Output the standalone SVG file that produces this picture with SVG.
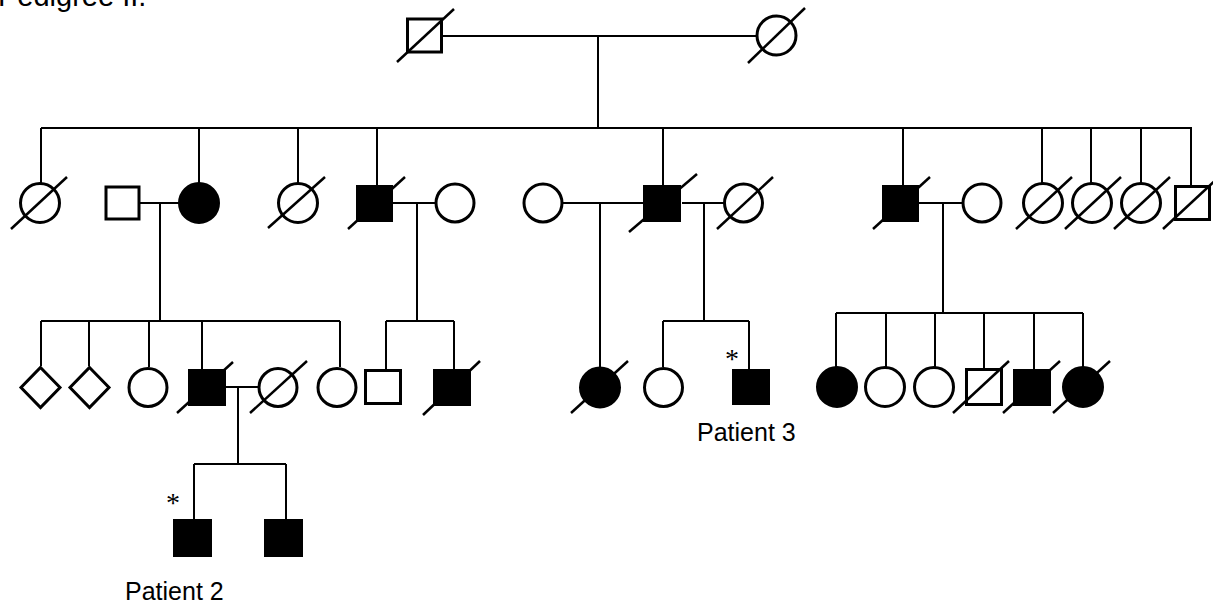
<svg xmlns="http://www.w3.org/2000/svg" width="1213" height="605" viewBox="0 0 1213 605">
<style>
.ln{stroke:#000;stroke-width:2;fill:none}
.o{fill:#fff;stroke:#000;stroke-width:3}
.f{fill:#000;stroke:#000;stroke-width:3}
.d{stroke:#000;stroke-width:2.5}
.lbl{font-family:"Liberation Sans",Arial,sans-serif;font-size:25px;fill:#000}
.ast{font-family:"Liberation Serif","Times New Roman",serif;font-size:28px;fill:#000}
</style>
<rect width="1213" height="605" fill="#fff"/>
<text class="lbl" x="-2" y="6" style="font-size:29px">Pedigree II.</text>
<g id="connectors">
<path class="ln" d="M443,36H757M598,36V128"/>
<path class="ln" d="M41,128H1192M41,128V183M199,128V183M298,128V183M377,128V185M663,128V185M903,128V185M1042,128V183M1091,128V183M1141,128V183M1191,128V185"/>
<path class="ln" d="M140,203H180M160,203V321"/>
<path class="ln" d="M393,203H436M417,203V321"/>
<path class="ln" d="M563,203H643M600,203V367"/>
<path class="ln" d="M682,203H724M704,203V321"/>
<path class="ln" d="M919,203H963M943,203V313"/>
<path class="ln" d="M41,321H340M41,321V366M89,321V366M149,321V367M202,321V369M340,321V367"/>
<path class="ln" d="M386,321H454M386,321V369M454,321V369"/>
<path class="ln" d="M663,321H749M663,321V367M749,321V369"/>
<path class="ln" d="M836,313H1083M836,313V367M886,313V367M935,313V367M984,313V368M1034,313V369M1083,313V367"/>
<path class="ln" d="M226,387H258M238,387V464M194,464H286M194,464V519M286,464V519"/>
</g>
<g id="I1"><rect class="o" x="407.5" y="19" width="34" height="33"/><line class="d" x1="397" y1="62" x2="454" y2="9"/></g>
<g id="I2"><circle class="o" cx="776.5" cy="35.5" r="19.5"/><line class="d" x1="748" y1="63" x2="805" y2="8"/></g>
<g id="II1"><circle class="o" cx="40" cy="203" r="19.5"/><line class="d" x1="11" y1="229" x2="67" y2="177"/></g>
<g id="II2"><rect class="o" x="106" y="187" width="33" height="32"/></g>
<g id="II3"><circle class="f" cx="199" cy="203" r="19.5"/></g>
<g id="II4"><circle class="o" cx="298" cy="203" r="19.5"/><line class="d" x1="268" y1="228" x2="325" y2="177"/></g>
<g id="II5"><rect class="f" x="357.5" y="186.5" width="34" height="34"/><line class="d" x1="348" y1="229" x2="405" y2="177"/></g>
<g id="II6"><circle class="o" cx="455" cy="203" r="19"/></g>
<g id="II7"><circle class="o" cx="543" cy="203" r="19"/></g>
<g id="II8"><rect class="f" x="644.5" y="186.5" width="35" height="34"/><line class="d" x1="629" y1="232" x2="697" y2="174"/></g>
<g id="II9"><circle class="o" cx="743.5" cy="203" r="19"/><line class="d" x1="717" y1="229" x2="773" y2="177"/></g>
<g id="II10"><rect class="f" x="883.5" y="186.5" width="34" height="34"/><line class="d" x1="873" y1="229" x2="930" y2="177"/></g>
<g id="II11"><circle class="o" cx="982" cy="203" r="19"/></g>
<g id="II12"><circle class="o" cx="1043" cy="203" r="19.5"/><line class="d" x1="1016" y1="229" x2="1072" y2="177"/></g>
<g id="II13"><circle class="o" cx="1092" cy="203" r="19.5"/><line class="d" x1="1065" y1="229" x2="1121" y2="177"/></g>
<g id="II14"><circle class="o" cx="1141" cy="203" r="19.5"/><line class="d" x1="1114" y1="229" x2="1170" y2="177"/></g>
<g id="II15"><rect class="o" x="1175.5" y="186.5" width="34" height="33"/><line class="d" x1="1163" y1="229" x2="1219" y2="177"/></g>
<g id="III1"><polygon class="o" points="40.5,367.5 60,387.5 40.5,407.5 21,387.5"/></g>
<g id="III2"><polygon class="o" points="89.5,367.5 109,387.5 89.5,407.5 70,387.5"/></g>
<g id="III3"><circle class="o" cx="148" cy="387.5" r="19"/></g>
<g id="III4"><rect class="f" x="189.5" y="370.5" width="35" height="34"/><line class="d" x1="177" y1="413" x2="233" y2="362"/></g>
<g id="III5"><circle class="o" cx="278" cy="387.5" r="19"/><line class="d" x1="250" y1="413" x2="307" y2="361"/></g>
<g id="III6"><circle class="o" cx="337" cy="387.5" r="19"/></g>
<g id="III7"><rect class="o" x="365.5" y="370.5" width="35" height="33"/></g>
<g id="III8"><rect class="f" x="434.5" y="370.5" width="35" height="34"/><line class="d" x1="423" y1="415" x2="480" y2="361"/></g>
<g id="III9"><circle class="f" cx="600" cy="387.5" r="19.5"/><line class="d" x1="571" y1="413" x2="628" y2="361"/></g>
<g id="III10"><circle class="o" cx="663.5" cy="387.5" r="19"/></g>
<g id="III11"><rect class="f" x="733.5" y="370.5" width="35" height="33"/><text class="ast" x="732" y="368" text-anchor="middle">*</text><text class="lbl" x="697" y="441">Patient 3</text></g>
<g id="III12"><circle class="f" cx="837" cy="387" r="19.5"/></g>
<g id="III13"><circle class="o" cx="885" cy="387" r="19.5"/></g>
<g id="III14"><circle class="o" cx="934" cy="387" r="19.5"/></g>
<g id="III15"><rect class="o" x="966.5" y="369.5" width="35" height="35"/><line class="d" x1="953" y1="413" x2="1009" y2="361"/></g>
<g id="III16"><rect class="f" x="1014.5" y="370.5" width="35" height="34"/><line class="d" x1="1003" y1="413" x2="1060" y2="361"/></g>
<g id="III17"><circle class="f" cx="1083" cy="387" r="19.5"/><line class="d" x1="1053" y1="413" x2="1110" y2="361"/></g>
<g id="IV1"><rect class="f" x="174.5" y="520.5" width="36" height="35"/><text class="ast" x="173" y="512" text-anchor="middle">*</text><text class="lbl" x="125" y="600">Patient 2</text></g>
<g id="IV2"><rect class="f" x="265.5" y="520.5" width="36" height="35"/></g>
</svg>
